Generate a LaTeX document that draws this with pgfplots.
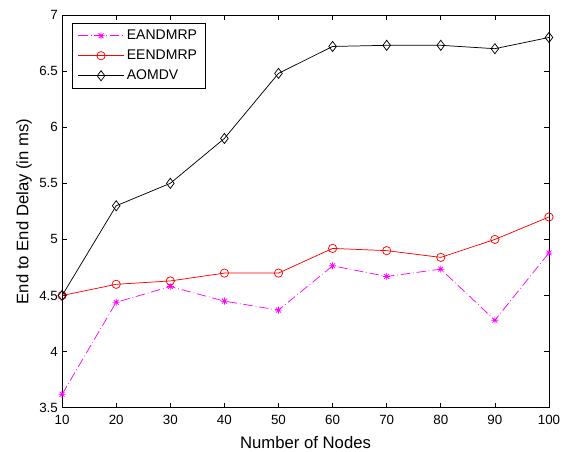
\documentclass[border=0pt]{standalone}
\usepackage{fontspec}
\setmainfont{Liberation Sans}
\usepackage{pgfplots}
\pgfplotsset{compat=1.18}
\definecolor{mlmag}{RGB}{255,0,255}

% MATLAB-style '*' mark: plus and cross together
\pgfdeclareplotmark{mlstar}{%
  \pgfpathmoveto{\pgfqpoint{-\pgfplotmarksize}{0pt}}\pgfpathlineto{\pgfqpoint{\pgfplotmarksize}{0pt}}%
  \pgfpathmoveto{\pgfqpoint{0pt}{-\pgfplotmarksize}}\pgfpathlineto{\pgfqpoint{0pt}{\pgfplotmarksize}}%
  \pgfpathmoveto{\pgfqpoint{-0.7\pgfplotmarksize}{-0.7\pgfplotmarksize}}\pgfpathlineto{\pgfqpoint{0.7\pgfplotmarksize}{0.7\pgfplotmarksize}}%
  \pgfpathmoveto{\pgfqpoint{-0.7\pgfplotmarksize}{0.7\pgfplotmarksize}}\pgfpathlineto{\pgfqpoint{0.7\pgfplotmarksize}{-0.7\pgfplotmarksize}}%
  \pgfusepathqstroke}

\begin{document}
\begin{tikzpicture}
\begin{axis}[
  scale only axis,
  width=364.5pt,
  height=294pt,
  xmin=10, xmax=100,
  ymin=3.5, ymax=7,
  xtick={10,20,...,100},
  ytick={3.5,4,...,7},
  tick align=inside,
  major tick length=3.7pt,
  tick style={black, line width=0.5pt},
  axis line style={black, line width=0.7pt},
  ticklabel style={font=\fontsize{10}{12}\selectfont},
  /pgf/number format/assume math mode=true,
  yticklabel style={/pgf/number format/fixed, inner sep=3pt},
  xticklabel style={anchor=base, yshift=-12.75pt},
  xlabel={Number of Nodes},
  ylabel={End to End Delay (in ms)},
  xlabel style={font=\fontsize{12.5}{15}\selectfont, at={(axis description cs:0.5,0)}, anchor=base, yshift=-30.75pt},
  ylabel style={font=\fontsize{12.5}{15}\selectfont, at={(axis description cs:-0.078,0.5)}, anchor=center},
  legend style={at={(0.0206,0.98)}, anchor=north west, draw=black, line width=0.6pt,
    font=\fontsize{10.5}{12}\selectfont, row sep=2.2pt, inner xsep=4pt, inner ysep=3pt},
  legend cell align=left,
  legend image code/.code={%
    \draw[mark repeat=2,mark phase=2,#1] plot coordinates {(0cm,0cm) (0.6cm,0cm) (1.2cm,0cm)};},
]
\addplot[mlmag, line width=0.55pt, dash pattern=on 7pt off 2.2pt on 0.5pt off 2.2pt,
  mark=mlstar, mark size=2.6pt, mark options={solid}] coordinates {
  (10,3.62) (20,4.44) (30,4.58) (40,4.45) (50,4.37)
  (60,4.765) (70,4.67) (80,4.735) (90,4.28) (100,4.88)
};
\addlegendentry{EANDMRP}
\addplot[red, line width=0.55pt, mark=o, mark size=3.1pt] coordinates {
  (10,4.50) (20,4.60) (30,4.63) (40,4.70) (50,4.70)
  (60,4.92) (70,4.90) (80,4.84) (90,5.00) (100,5.20)
};
\addlegendentry{EENDMRP}
\addplot[black, line width=0.55pt, mark=diamond, mark size=3.8pt] coordinates {
  (10,4.50) (20,5.30) (30,5.50) (40,5.90) (50,6.48)
  (60,6.72) (70,6.73) (80,6.73) (90,6.70) (100,6.80)
};
\addlegendentry{AOMDV}
\end{axis}
\pgfresetboundingbox
\path ([xshift=-46.5pt,yshift=-33pt]current axis.south west) rectangle ([xshift=12pt,yshift=11.25pt]current axis.north east);
\end{tikzpicture}
\end{document}
